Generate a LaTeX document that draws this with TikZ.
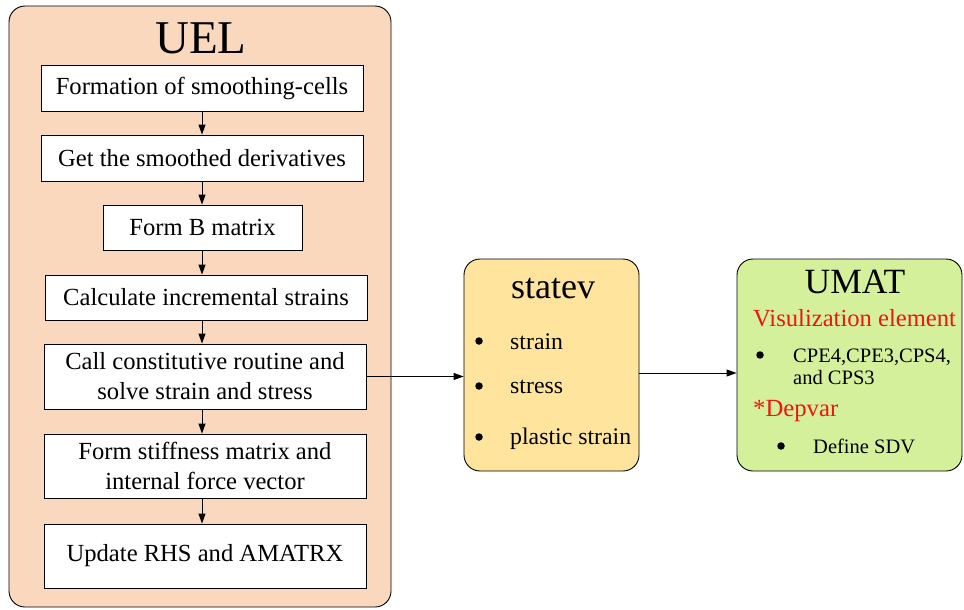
\documentclass[tikz,border=0pt]{standalone}
\usepackage{fontspec}
\setmainfont{Liberation Serif}
\usetikzlibrary{arrows.meta}
\definecolor{peach}{RGB}{250,216,190}
\definecolor{butter}{RGB}{254,228,156}
\definecolor{lime}{RGB}{213,240,154}
\definecolor{redtxt}{RGB}{240,20,20}
\definecolor{ink}{RGB}{1,1,1}
\tikzset{
  container/.style={draw=ink, line width=0.9pt, rounded corners=16pt, inner sep=0pt},
  stepbox/.style={draw=ink, fill=white, line width=0.9pt, inner sep=0pt, align=center,
    font=\fontsize{24.6}{30}\selectfont},
  item/.style={anchor=base west, inner sep=0pt, font=\fontsize{23.8}{28}\selectfont},
  smallitem/.style={anchor=base west, inner sep=0pt, font=\fontsize{20.5}{23}\selectfont},
  bul/.style={circle, fill=ink, inner sep=0pt, minimum size=7.5pt},
  flow/.style={draw=ink, line width=0.9pt, -{Triangle[length=10pt,width=7pt]}}
}
\begin{document}
\begin{tikzpicture}[x=1pt,y=-1pt, every node/.append style={text=ink}]
\useasboundingbox (0,0) rectangle (964,610);
% containers
\node[container, fill=peach, minimum width=382pt, minimum height=601pt] (uel) at (200,306.5) {};
\node[container, fill=butter, minimum width=175pt, minimum height=212pt] (sv) at (551.5,365) {};
\node[container, fill=lime, minimum width=225pt, minimum height=212pt] (um) at (849.5,365) {};
% titles
\node[anchor=base, inner sep=0pt, font=\fontsize{47}{50}\selectfont] (uelt) at (201,54) {UEL};
\node[anchor=base, inner sep=0pt, font=\fontsize{36}{40}\selectfont] (svt) at (553,298) {statev};
\node[anchor=base, inner sep=0pt, font=\fontsize{35.5}{40}\selectfont] (umt) at (855,293) {UMAT};
% UEL steps
\node[stepbox, minimum width=322pt, minimum height=46pt] (b1) at (202,88) {Formation of smoothing-cells};
\node[stepbox, minimum width=322pt, minimum height=46pt] (b2) at (202,158) {Get the smoothed derivatives};
\node[stepbox, minimum width=199pt, minimum height=45pt] (b3) at (202.5,227.5) {Form B matrix};
\node[stepbox, minimum width=322pt, minimum height=45pt] (b4) at (206,297.5) {Calculate incremental strains};
\node[stepbox, minimum width=322pt, minimum height=65pt] (b5) at (205,376.5) {Call constitutive routine and\\solve strain and stress};
\node[stepbox, minimum width=322pt, minimum height=64pt] (b6) at (205,466) {Form stiffness matrix and\\internal force vector};
\node[stepbox, minimum width=322pt, minimum height=64pt] (b7) at (205,556) {Update RHS and AMATRX};
% arrows in UEL
\draw[flow] (b1.south) -- (b2.north);
\draw[flow] (b2.south) -- (b2.south |- b3.north);
\draw[flow] (b3.south -| b1.south) -- (b4.north -| b1.south);
\draw[flow] (b4.south -| b1.south) -- (b5.north -| b1.south);
\draw[flow] (b5.south -| b1.south) -- (b6.north -| b1.south);
\draw[flow] (b6.south -| b1.south) -- (b7.north -| b1.south);
% statev items
\node[bul] (s1b) at (479,341) {};
\node[item] (s1) at (510,349) {strain};
\node[bul] (s2b) at (479,386) {};
\node[item] (s2) at (510,393) {stress};
\node[bul] (s3b) at (479,437) {};
\node[item] (s3) at (510,444) {plastic strain};
% UMAT items
\node[anchor=base west, inner sep=0pt, text=redtxt, font=\fontsize{24.6}{28}\selectfont] (u1) at (753,326) {Visulization element};
\node[bul] (u2b) at (760,355) {};
\node[smallitem] (u2) at (793,362) {CPE4,CPE3,CPS4,};
\node[smallitem] (u3) at (793,384) {and CPS3};
\node[anchor=base west, inner sep=0pt, text=redtxt, font=\fontsize{24.7}{28}\selectfont] (u4) at (753,416) {*Depvar};
\node[bul] (u5b) at (781,446) {};
\node[smallitem] (u5) at (813,453) {Define SDV};
% connectors
\draw[flow] (b5.east) -- (b5.east -| sv.west);
\coordinate (m2) at (639,373);
\draw[flow] (m2) -- (m2 -| um.west);
\end{tikzpicture}
\end{document}
